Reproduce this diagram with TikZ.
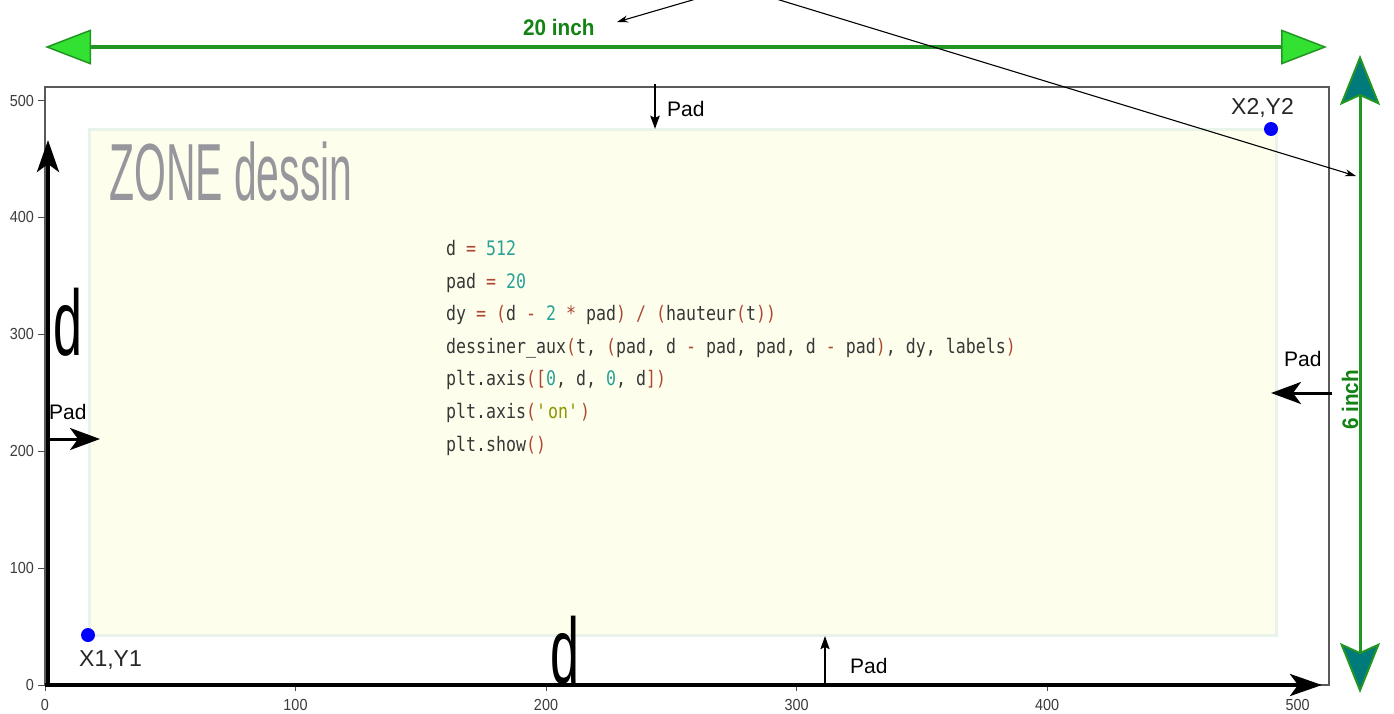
\documentclass[tikz,border=0pt]{standalone}
\usepackage{fontspec}
\setmainfont{Liberation Sans}
\newfontfamily\codefont{DejaVu Sans Mono}[FakeStretch=0.83, Ligatures=TeXOff]
\newfontfamily\zonefont{Liberation Sans}[FakeStretch=0.505]
\newfontfamily\bigdfont{Liberation Sans}[FakeStretch=0.56]
\newfontfamily\tickfont{Liberation Sans}[FakeStretch=0.9]
\newfontfamily\dimfont{Liberation Sans}[FakeStretch=0.92]
\usetikzlibrary{arrows.meta}

\definecolor{greenline}{RGB}{34,150,34}
\definecolor{greenfill}{RGB}{50,225,50}
\definecolor{greentext}{RGB}{20,130,20}
\definecolor{tealfill}{RGB}{0,122,122}
\definecolor{zonefill}{RGB}{254,254,236}
\definecolor{zoneborder}{RGB}{232,244,234}
\definecolor{zonetext}{RGB}{150,150,156}
\definecolor{codefg}{RGB}{55,55,55}
\definecolor{codeop}{RGB}{172,72,52}
\definecolor{codenum}{RGB}{42,161,152}
\definecolor{codestr}{RGB}{140,150,0}
\definecolor{ticktext}{RGB}{60,60,60}

\newcommand\cop[1]{\textcolor{codeop}{#1}}
\newcommand\cnum[1]{\textcolor{codenum}{#1}}
\newcommand\cstr[1]{\textcolor{codestr}{#1}}

\tikzset{
  plotframe/.style={draw=black!65, line width=1.2pt, fill=white, inner sep=0pt},
  zonebox/.style={draw=zoneborder, fill=zonefill, line width=3.5pt, inner sep=0pt},
  ticklbl/.style={font=\tickfont\fontsize{16pt}{16pt}\selectfont, text=ticktext, inner sep=0pt},
  tickmark/.style={draw=black!70, line width=1pt},
  axisline/.style={line width=4pt, -{Stealth[length=32pt, width=22pt, inset=8pt]}},
  padthick/.style={line width=3pt, -{Stealth[length=30pt, width=22pt, inset=8pt]}},
  padthin/.style={line width=2.8pt, -{Stealth[length=13pt, width=9pt, inset=2pt]}},
  padlbl/.style={font=\fontsize{21pt}{21pt}\selectfont, inner sep=0pt, anchor=base west},
  ptlbl/.style={font=\fontsize{23pt}{23pt}\selectfont, text=black!85, inner sep=0pt, anchor=base west},
  dimlbl/.style={font=\dimfont\bfseries\fontsize{22.5pt}{22.5pt}\selectfont, text=greentext, inner sep=0pt},
  bigd/.style={font=\bigdfont\fontsize{93pt}{93pt}\selectfont, inner sep=0pt, anchor=base west},
  hdim/.style={draw=greenline, line width=4pt,
    {Triangle[length=46pt, width=35pt, fill=greenfill, color=greenline, line width=1.5pt]}-{Triangle[length=46pt, width=35pt, fill=greenfill, color=greenline, line width=1.5pt]}},
  vdim/.style={draw=greenline, line width=3pt,
    {Stealth[length=50pt, width=40pt, inset=9pt, fill=tealfill, color=greenline, line width=2pt]}-{Stealth[length=50pt, width=40pt, inset=9pt, fill=tealfill, color=greenline, line width=2pt]}},
  callout/.style={draw=black, line width=1.1pt, -{Stealth[length=11pt, width=7pt]}},
  bluedot/.style={circle, fill=blue, minimum size=14pt, inner sep=0pt},
}

\begin{document}
\begin{tikzpicture}[x=1pt, y=-1pt]
  \useasboundingbox (0,0) rectangle (1394,713);
  \fill[white] (0,0) rectangle (1394,713);

  % plotting area and drawing zone
  \node[plotframe, minimum width=1284pt, minimum height=598pt] (frame) at (687,386) {};
  \node[zonebox, minimum width=1187pt, minimum height=506pt] (zone) at (683,382.5) {};

  % tick labels and tick marks
  \foreach \v in {0,100,...,500} {
    \node[ticklbl, anchor=east] (ytick\v) at (34, 685-1.1688*\v) {\v};
    \draw[tickmark] (38, 685-1.1688*\v) -- (45, 685-1.1688*\v);
    \node[ticklbl] (xtick\v) at (45+2.505*\v, 705) {\v};
    \draw[tickmark] (45+2.505*\v, 685) -- (45+2.505*\v, 691);
  }

  % zone title
  \node[font=\zonefont\fontsize{81pt}{81pt}\selectfont, text=zonetext, inner sep=0pt, anchor=base west]
    (zonetitle) at (109,200) {ZONE dessin};

  % code listing
  \node[font=\codefont\fontsize{20pt}{32.6pt}\selectfont, text=codefg, align=left,
        inner sep=0pt, anchor=north west] (code) at (446,240) {%
d \cop{=} \cnum{512}\\
pad \cop{=} \cnum{20}\\
dy \cop{=} \cop{(}d \cop{-} \cnum{2} \cop{*} pad\cop{)} \cop{/} \cop{(}hauteur\cop{(}t\cop{))}\\
dessiner\_aux\cop{(}t, \cop{(}pad, d \cop{-} pad, pad, d \cop{-} pad\cop{)}, dy, labels\cop{)}\\
plt.axis\cop{([}\cnum{0}, d, \cnum{0}, d\cop{])}\\
plt.axis\cop{(}\cstr{\textquotesingle on\textquotesingle}\cop{)}\\
plt.show\cop{()}};

  % thick axes
  \coordinate (origin) at (48,685);
  \coordinate (ytop) at (48,140);
  \coordinate (xorigin) at (45,685);
  \coordinate (xend) at (1322,685);
  \draw[axisline] (origin) -- (ytop);
  \draw[axisline] (xorigin) -- (xend);

  % big d labels
  \node[bigd] (dleft) at (53,355) {d};
  \node[bigd] (dbottom) at (550,683) {d};

  % corner points
  \node[bluedot] (p1) at (88,635) {};
  \node[bluedot] (p2) at (1271,129) {};
  \node[ptlbl] (p1lbl) at (79,666) {X1,Y1};
  \node[ptlbl] (p2lbl) at (1231,114) {X2,Y2};

  % padding arrows
  \coordinate (padTs) at (655,84);
  \coordinate (padTe) at (655,129);
  \draw[padthin] (padTs) -- (padTe);
  \node[padlbl] (padT) at (667,116) {Pad};

  \coordinate (padBs) at (825,685);
  \coordinate (padBe) at (825,636);
  \draw[padthin, line width=2pt] (padBs) -- (padBe);
  \node[padlbl] (padB) at (850,673) {Pad};

  \coordinate (padLs) at (46,439);
  \coordinate (padLe) at (100,439);
  \draw[padthick] (padLs) -- (padLe);
  \node[padlbl] (padL) at (49,419) {Pad};

  \coordinate (padRs) at (1332,393);
  \coordinate (padRe) at (1271,393);
  \draw[padthick] (padRs) -- (padRe);
  \node[padlbl] (padR) at (1284,366) {Pad};

  % overall dimensions
  \coordinate (hl) at (45,47);
  \coordinate (hr) at (1327,47);
  \draw[hdim] (hl) -- (hr);
  \node[dimlbl, anchor=base west] (w20) at (523,35) {20 inch};

  \coordinate (vt) at (1360,55);
  \coordinate (vb) at (1360,693);
  \draw[vdim] (vt) -- (vb);
  \node[dimlbl, rotate=90] (h6) at (1350,400) {6 inch};

  % callout arrows from above
  \coordinate (src) at (737,-13);
  \coordinate (tipA) at (617,22);
  \coordinate (tipB) at (1356,176);
  \draw[callout] (src) -- (tipA);
  \draw[callout] (src) -- (tipB);
\end{tikzpicture}
\end{document}
